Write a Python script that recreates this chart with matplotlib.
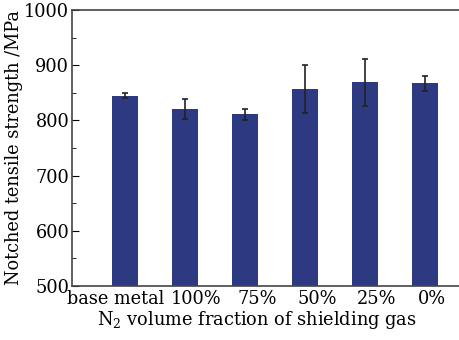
import numpy as np
import matplotlib
matplotlib.use("Agg")
import matplotlib.pyplot as plt

# data
groups = ["base metal", "100%", "75%", "50%", "25%", "0%"]
strength = [845, 821, 811, 857, 869, 867]
err = [5, 18, 10, 44, 43, 14]
# the original labels sit a bit off the bar centres
label_shift = [-0.15, 0.19, 0.2, 0.2, 0.2, 0.12]

plt.rcParams['font.family'] = ['DejaVu Serif']
plt.rcParams['mathtext.fontset'] = 'dejavuserif'
fs = 12.8

fig = plt.figure(figsize=(4.6, 3.4), dpi=100)
ax = fig.add_axes([72/460, 54/340, 388/460, 276/340])

x = np.arange(len(groups))
ax.bar(x, strength, width=0.42, color='#2d3a82', zorder=2)
ax.errorbar(x, strength, yerr=err, fmt='none', ecolor='#222222',
            elinewidth=1.2, capsize=2.5, capthick=1.2, zorder=3)

ax.set_ylim(500, 1000)
ax.set_xlim(-0.883, 5.583)
ax.set_yticks(np.arange(500, 1001, 100))
ax.set_yticks(np.arange(550, 1000, 100), minor=True)
ax.set_xticks(x + np.array(label_shift))
ax.set_xticklabels(groups)
ax.tick_params(axis='x', length=0, pad=3, labelsize=fs)
ax.tick_params(axis='y', which='major', direction='in', length=5, labelsize=fs, pad=2)
ax.tick_params(axis='y', which='minor', direction='in', length=3)

for s in ['top', 'left', 'bottom']:
    ax.spines[s].set_color('#444444')
    ax.spines[s].set_linewidth(1.2)
ax.spines['right'].set_visible(False)

ax.set_ylabel("Notched tensile strength /MPa", fontsize=fs, labelpad=1)
ax.set_xlabel("N$_2$ volume fraction of shielding gas", fontsize=fs, labelpad=0)
ax.xaxis.set_label_coords(0.477, -0.085)

fig.savefig("out.png", dpi=100)
